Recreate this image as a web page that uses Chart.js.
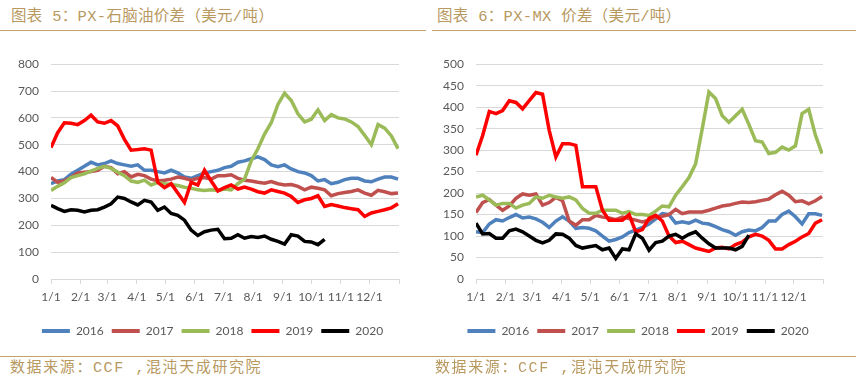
<!DOCTYPE html>
<html>
<head>
<meta charset="utf-8">
<script src="https://cdn.jsdelivr.net/npm/chart.js@4.4.1/dist/chart.umd.min.js"></script>
<style>
  html, body { margin: 0; padding: 0; background: #fff; }
  body { width: 856px; height: 381px; position: relative; overflow: hidden; font-family: "Liberation Mono", "Noto Sans CJK SC", monospace; }
  .title { position: absolute; top: 7px; line-height: 20px; font-size: 15.5px; color: #b8995f; letter-spacing: 0.3px; white-space: nowrap; }
  .src { position: absolute; top: 359px; line-height: 20px; font-size: 15px; color: #b8995f; letter-spacing: 1.6px; white-space: nowrap; }
  .rule { position: absolute; height: 1px; background: #c4a466; }
  .box { position: absolute; top: 45px; height: 302px; }
</style>
</head>
<body>
<div class="title" style="left:11px">图表 5：PX-石脑油价差（美元/吨）</div>
<div class="title" style="left:437px">图表 6：PX-MX 价差（美元/吨）</div>
<div class="rule" style="left:0;width:426px;top:30px"></div>
<div class="rule" style="left:432px;width:424px;top:30px"></div>

<div class="box" style="left:0;width:427px"><canvas id="naphtha"></canvas></div>
<div class="box" style="left:425px;width:426px"><canvas id="mx"></canvas></div>

<div class="rule" style="left:0;width:430px;top:356px"></div>
<div class="rule" style="left:430px;width:426px;top:356px"></div>
<div class="src" style="left:10px">数据来源：CCF ,混沌天成研究院</div>
<div class="src" style="left:435px">数据来源：CCF ,混沌天成研究院</div>

<script>
// day of year for each sample (weekly)
const days = [0,7,14,21,28,35,42,49,56,63,70,77,84,91,98,105,112,119,126,133,140,147,154,161,168,175,
  182,189,196,203,210,217,224,231,238,245,252,259,266,273,280,287,294,301,308,315,322,329,336,343,350,357,364]

const monthStarts = [0,31,59,90,120,151,181,212,243,273,304,334,365]
const monthLabels = ['1/1','2/1','3/1','4/1','5/1','6/1','7/1','8/1','9/1','10/1','11/1','12/1','']

const years = ['2016','2017','2018','2019','2020']
const colors = ['#4f81bd','#c0504d','#9bbb59','#ff0000','#000000']

// PX-石脑油价差
const naph2016 = [355,365,370,390,405,420,435,425,430,440,430,425,420,425,405,405,400,395,405,395,
  380,375,385,395,400,405,415,420,435,440,448,455,445,425,418,425,410,400,395,385,
  365,370,355,360,370,375,375,365,362,372,380,380,372]
const naph2017 = [378,360,365,378,395,398,400,405,420,415,392,400,380,390,385,372,365,368,372,380,
  375,368,375,378,372,385,385,388,375,368,365,360,357,363,355,350,352,345,332,342,
  338,332,310,318,322,326,332,320,312,330,325,318,320]
const naph2018 = [330,345,358,378,385,392,402,412,420,412,398,385,365,360,368,350,360,355,352,348,
  342,338,332,330,332,330,335,332,355,372,440,485,540,582,650,692,665,615,585,595,
  630,590,612,600,596,585,568,535,500,575,562,533,485]
const naph2019 = [490,545,582,580,575,590,610,585,580,590,570,520,480,482,485,480,360,340,355,320,
  285,360,350,405,365,328,340,350,335,342,335,325,320,332,326,320,307,285,295,300,
  310,270,277,272,266,262,258,233,246,252,258,265,280]
const naph2020 = [274,262,252,258,256,250,256,258,268,280,305,300,287,276,293,287,256,268,244,237,
  219,182,162,176,182,185,150,152,165,152,158,155,160,148,140,130,165,160,140,138,
  128,148]

// PX-MX 价差
const mx2016 = [110,108,128,138,135,143,150,142,144,140,132,120,135,145,135,118,120,118,112,100,
  88,92,98,108,114,120,128,140,152,150,130,133,130,137,130,128,122,115,110,102,
  110,114,112,120,135,135,150,158,145,128,152,152,148]
const mx2017 = [155,178,185,172,160,170,188,198,195,198,172,178,190,182,135,125,138,138,148,144,
  142,138,144,141,137,133,137,144,146,150,162,152,156,156,156,160,165,170,172,176,
  179,178,180,183,186,196,204,195,180,182,175,182,192]
const mx2018 = [191,195,184,172,176,176,165,172,176,191,188,195,191,188,191,184,164,153,153,160,
  160,160,153,157,150,150,148,158,170,168,195,215,236,268,350,435,420,380,365,380,
  395,360,322,319,292,295,307,300,310,385,395,335,292]
const mx2019 = [288,334,390,385,392,415,411,396,415,434,430,346,284,315,315,311,215,215,215,160,
  137,137,137,150,110,115,141,148,135,100,85,88,80,72,68,64,72,74,70,80,
  86,98,104,100,90,70,70,80,88,98,106,130,138]
const mx2020 = [130,105,106,95,95,112,116,110,100,90,84,90,105,104,95,78,72,75,78,68,
  72,48,70,68,105,95,67,85,88,100,104,95,104,110,95,82,72,72,72,68,
  76,102]

const tickFont = { family: 'Lato', size: 12 }
const textColor = '#595959'
const gridColor = '#d9d9d9'

// nudge the legend sideways (it is otherwise centred on the padded canvas)
const legendShift = {
  id: 'legendShift',
  afterLayout(chart, args, opts) {
    chart.legend.left += opts.dx
    chart.legend.right += opts.dx
  }
}

function makeChart(id, seriesList, yMax, yStep, legendDx) {
  const datasets = seriesList.map((values, i) => ({
    label: years[i],
    data: values.map((v, k) => ({ x: days[k], y: v })),
    borderColor: colors[i],
    backgroundColor: colors[i],
    borderWidth: 3.5,
    pointRadius: 0,
    tension: 0,
    order: seriesList.length - 1 - i  // later years on top
  }))

  return new Chart(document.getElementById(id), {
    type: 'line',
    data: { datasets },
    plugins: [legendShift],
    options: {
      responsive: true,
      maintainAspectRatio: false,
      animation: false,
      layout: { padding: { top: 18, right: 28, bottom: 0, left: 0 } },
      plugins: {
        legendShift: { dx: legendDx },
        tooltip: { enabled: false },
        legend: {
          position: 'bottom',
          labels: {
            boxWidth: 28,
            boxHeight: 4,
            padding: 8,
            color: textColor,
            font: tickFont,
            sort: (a, b) => a.datasetIndex - b.datasetIndex,
            generateLabels: (chart) =>
              Chart.defaults.plugins.legend.labels.generateLabels(chart).map(item => ({ ...item, lineWidth: 0 }))
          }
        }
      },
      scales: {
        x: {
          type: 'linear',
          min: 0,
          max: 365,
          afterBuildTicks: (scale) => { scale.ticks = monthStarts.map(v => ({ value: v })) },
          afterFit: (scale) => { scale.height = 38 },
          ticks: {
            autoSkip: false,
            maxRotation: 0,
            padding: 6,
            color: textColor,
            font: tickFont,
            callback: (value, index) => monthLabels[index]
          },
          grid: { drawOnChartArea: false, tickLength: 5, color: gridColor },
          border: { color: gridColor }
        },
        y: {
          min: 0,
          max: yMax,
          afterFit: (scale) => { scale.width = 51 },
          ticks: { stepSize: yStep, padding: 12, color: textColor, font: tickFont },
          grid: { drawTicks: false, color: gridColor },
          border: { display: false }
        }
      }
    }
  })
}

makeChart('naphtha', [naph2016, naph2017, naph2018, naph2019, naph2020], 800, 100, 13)
makeChart('mx', [mx2016, mx2017, mx2018, mx2019, mx2020], 500, 50, 14)
</script>
</body>
</html>
